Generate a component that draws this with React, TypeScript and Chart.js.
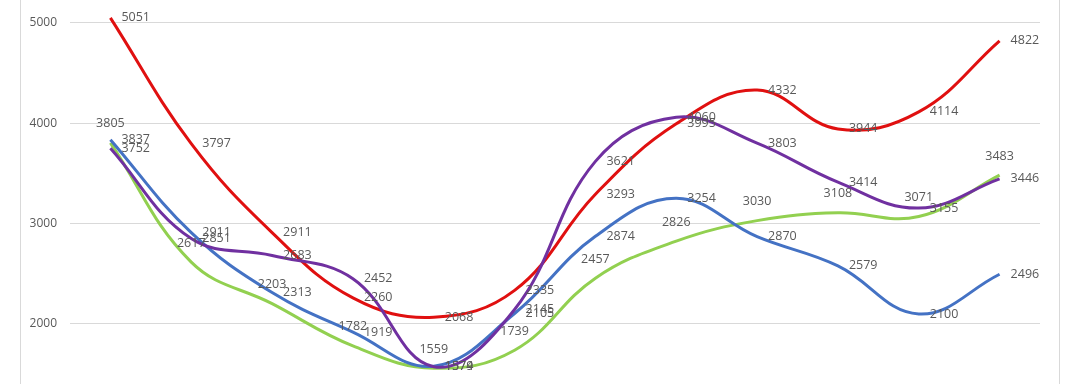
import React, { useEffect, useRef } from "react";
import { Chart, registerables } from "chart.js";

Chart.register(...registerables);

const categories = ["1", "2", "3", "4", "5", "6", "7", "8", "9", "10", "11", "12"];
const redValues = [5051, 3797, 2911, 2260, 2068, 2335, 3293, 3995, 4332, 3944, 4114, 4822];
const purpleValues = [3752, 2851, 2683, 2452, 1574, 2145, 3621, 4060, 3803, 3414, 3155, 3446];
const blueValues = [3837, 2911, 2313, 1919, 1579, 2105, 2874, 3254, 2870, 2579, 2100, 2496];
const greenValues = [3805, 2617, 2203, 1782, 1559, 1739, 2457, 2826, 3030, 3108, 3071, 3483];
const yTicks = [2000, 3000, 4000, 5000];

const FONT = '"Open Sans", "Noto Sans", sans-serif';

const framePlugin = {
  id: "frame",
  beforeDraw(chart: any) {
    const ctx = chart.ctx;
    ctx.save();
    ctx.strokeStyle = "#d9d9d9";
    ctx.lineWidth = 1;
    ctx.beginPath();
    ctx.moveTo(20.5, 0);
    ctx.lineTo(20.5, chart.height);
    ctx.moveTo(1059.5, 0);
    ctx.lineTo(1059.5, chart.height);
    ctx.stroke();
    ctx.restore();
  },
};

const labelPlugin = {
  id: "pointLabels",
  afterDatasetsDraw(chart: any) {
    const ctx = chart.ctx;
    ctx.save();
    ctx.font = `12.5px ${FONT}`;
    ctx.fillStyle = "#595959";
    chart.data.datasets.forEach((ds: any, i: number) => {
      const meta = chart.getDatasetMeta(i);
      meta.data.forEach((pt: any, j: number) => {
        const text = String(ds.data[j]);
        ctx.textBaseline = "middle";
        if (ds.labelPos === "above") {
          ctx.textAlign = "center";
          ctx.fillText(text, pt.x, pt.y - 19);
        } else {
          ctx.textAlign = "left";
          ctx.fillText(text, pt.x + 11, pt.y);
        }
      });
    });
    ctx.restore();
  },
};

export default function App() {
  const canvasRef = useRef<HTMLCanvasElement | null>(null);

  useEffect(() => {
    if (!canvasRef.current) return;
    const mk = (data: number[], color: string, labelPos: string) => ({
      data,
      borderColor: color,
      backgroundColor: color,
      borderWidth: 3,
      pointRadius: 0,
      tension: 0.4,
      fill: false,
      labelPos,
    });
    const chart = new Chart(canvasRef.current, {
      type: "line",
      data: {
        labels: categories,
        datasets: [
          mk(purpleValues, "#7030A0", "right"),
          mk(redValues, "#E01010", "right"),
          mk(blueValues, "#4472C4", "right"),
          mk(greenValues, "#92D050", "above"),
        ] as any,
      },
      options: {
        animation: false,
        responsive: false,
        maintainAspectRatio: false,
        layout: { autoPadding: false, padding: { left: 0, right: 40, top: 0, bottom: 0 } },
        plugins: {
          legend: { display: false },
          tooltip: { enabled: false },
        },
        scales: {
          x: {
            type: "category",
            offset: true,
            display: false,
          },
          y: {
            min: 1402,
            max: 5229,
            border: { display: false },
            grid: { color: "#d9d9d9", lineWidth: 1, drawTicks: false },
            ticks: {
              color: "#595959",
              font: { family: FONT, size: 12 },
              padding: 13,
              callback: (v: any) => String(v),
            },
            afterBuildTicks: (scale: any) => {
              scale.ticks = yTicks.map((v) => ({ value: v }));
            },
            afterFit: (scale: any) => {
              scale.width = 70;
              scale.paddingTop = 0;
              scale.paddingBottom = 0;
            },
          },
        },
      } as any,
      plugins: [framePlugin, labelPlugin],
    });
    return () => chart.destroy();
  }, []);

  return (
    <div style={{ position: "fixed", left: 0, top: 0, width: 1080, height: 384, background: "#fff" }}>
      <canvas ref={canvasRef} width={1080} height={384} style={{ display: "block" }} />
    </div>
  );
}
